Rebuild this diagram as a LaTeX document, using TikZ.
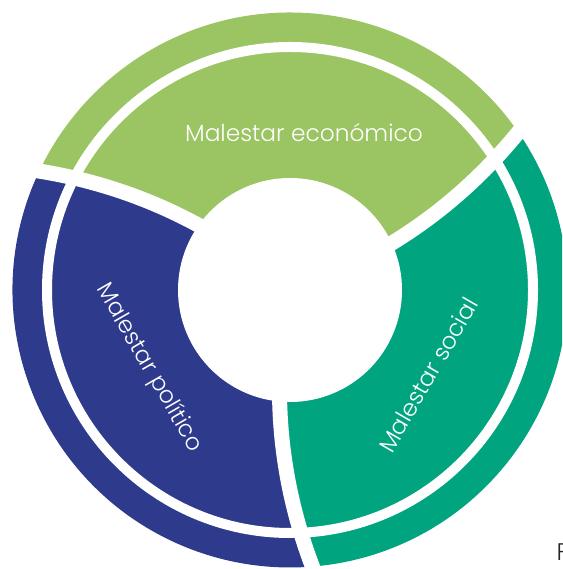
\documentclass[tikz,border=0pt]{standalone}
\usepackage{fontspec}
\newfontfamily\lblfont{Poppins}[UprightFont=* Light]
\definecolor{econ}{HTML}{9BC462}
\definecolor{poli}{HTML}{2E3A8C}
\definecolor{soc}{HTML}{00A57F}
% #1 colour, #2 start angle of the spiral gap that opens the segment
\newcommand\segfill[2]{%
  \fill[#1] plot[domain=100:277.5, samples=30, variable=\r] ({#2+0.06*(\r-112)}:{\r})
    arc[start angle={#2+0.06*165.5}, end angle={#2+120+0.06*165.5}, radius=277.5]
    -- plot[domain=277.5:100, samples=30, variable=\r] ({#2+120+0.06*(\r-112)}:{\r}) -- cycle;}
\begin{document}
\begin{tikzpicture}[x=1pt,y=1pt,
  lbl/.style={text=white, font=\lblfont\fontsize{23.3}{27}\selectfont, inner sep=0pt},
  gapline/.style={draw=white, line width=15pt},
  ringgap/.style={draw=white, line width=10pt}]
\useasboundingbox (0,0) rectangle (562,569);
\clip (0,0) rectangle (562,569);
\begin{scope}[shift={(290,279)}]
  \segfill{econ}{24.7}
  \segfill{poli}{144.7}
  \segfill{soc}{264.7}
  \fill[white] (0,0) circle[radius=112];
  \draw[ringgap] (0,0) circle[radius=243];
  \foreach \t in {24.7,144.7,264.7}
    \draw[gapline] plot[domain=100:300, samples=40, variable=\r] ({\t+0.06*(\r-112)}:{\r});
\end{scope}
\node[lbl] (econlbl) at (304,436) {Malestar económico};
\node[lbl, rotate=-60] (polilbl) at (149,201) {Malestar político};
\node[lbl, rotate=60] (soclbl) at (428,194) {Malestar social};
\node[anchor=base west, inner sep=0pt, text=black!85, font=\lblfont\fontsize{24}{28}\selectfont] (fnote) at (556.5,9) {F};
\end{tikzpicture}
\end{document}
